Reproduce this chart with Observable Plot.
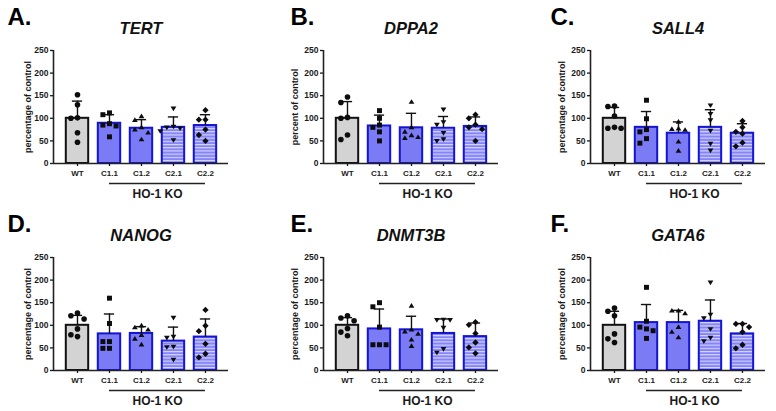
<!DOCTYPE html>
<html>
<head>
<meta charset="utf-8">
<script src="https://cdn.jsdelivr.net/npm/d3@7"></script>
<script src="https://cdn.jsdelivr.net/npm/@observablehq/plot@0.6"></script>
<style>
  body { margin: 0; background: #fff; }
  #wrap { position: relative; width: 776px; height: 411px; background: #fff; overflow: hidden; }
  #wrap svg.plot { position: absolute; width: 240px; height: 205px; max-width: none;
    font-family: "Liberation Sans", Arial, sans-serif; color: #1a1a1a; }
</style>
</head>
<body>
<svg width="0" height="0" style="position:absolute">
  <defs>
    <pattern id="stripes" patternUnits="userSpaceOnUse" width="6" height="3.2">
      <rect x="0" y="0" width="6" height="3.2" fill="#8585f7"></rect>
      <rect x="0" y="0" width="6" height="1.1" fill="#d8d8ff"></rect>
    </pattern>
  </defs>
</svg>
<div id="wrap"></div>
<script>
// ---------- data ----------
const categories = ["WT", "C1.1", "C1.2", "C2.1", "C2.2"];
const genes = ["TERT", "DPPA2", "SALL4", "NANOG", "DNMT3B", "GATA6"];
const panelLetters = ["A.", "B.", "C.", "D.", "E.", "F."];
const yLabels = ["percentage of control", "percent of control", "percentage of control",
                 "percentage of control", "percentage of control", "percentage of control"];
const groupLabel = "HO-1 KO";
const yTicks = [0, 50, 100, 150, 200, 250];

const meanTERT   = [100, 89, 78, 80, 84];
const sdTERT     = [38, 19, 19, 23, 24];
const meanDPPA2  = [100, 83, 79, 78, 82];
const sdDPPA2    = [37, 24, 32, 26, 21];
const meanSALL4  = [100, 80, 67, 80, 67];
const sdSALL4    = [24, 35, 25, 39, 21];
const meanNANOG  = [100, 81, 82, 65, 74];
const sdNANOG    = [22, 44, 15, 31, 40];
const meanDNMT3B = [100, 92, 90, 82, 75];
const sdDNMT3B   = [17, 44, 30, 32, 30];
const meanGATA6  = [100, 106, 106, 109, 81];
const sdGATA6    = [31, 40, 27, 47, 23];

const ptsTERT = [
  [152, 130, 101, 100, 68, 47],
  [112, 108, 88, 85, 83, 59],
  [104, 96, 80, 75, 68, 53],
  [122, 82, 80, 78, 72, 52],
  [118, 97, 97, 75, 63, 50]];
const ptsDPPA2 = [
  [147, 135, 102, 100, 63, 53],
  [117, 100, 85, 80, 70, 50],
  [136, 80, 70, 62, 58, 56],
  [120, 92, 86, 68, 54, 50],
  [108, 100, 86, 80, 76, 50]];
const ptsSALL4 = [
  [127, 126, 105, 80, 78, 78],
  [140, 99, 75, 70, 55, 45],
  [92, 77, 76, 74, 48, 28],
  [129, 110, 96, 73, 44, 29],
  [94, 80, 70, 66, 46, 38]];
const ptsNANOG = [
  [127, 121, 114, 92, 79, 75],
  [160, 104, 64, 64, 49, 49],
  [99, 95, 90, 78, 70, 57],
  [117, 75, 73, 53, 52, 24],
  [134, 99, 87, 59, 37, 29]];
const ptsDNMT3B = [
  [121, 116, 110, 93, 85, 77],
  [150, 141, 96, 57, 57, 57],
  [143, 90, 86, 81, 68, 54],
  [113, 112, 112, 95, 48, 40],
  [107, 101, 82, 62, 51, 38]];
const ptsGATA6 = [
  [138, 131, 121, 81, 70, 62],
  [184, 109, 96, 92, 88, 71],
  [132, 132, 126, 96, 85, 73],
  [195, 124, 116, 92, 73, 65],
  [103, 103, 96, 85, 57, 49]];

const allMeans = [meanTERT, meanDPPA2, meanSALL4, meanNANOG, meanDNMT3B, meanGATA6];
const allSds = [sdTERT, sdDPPA2, sdSALL4, sdNANOG, sdDNMT3B, sdGATA6];
const allPts = [ptsTERT, ptsDPPA2, ptsSALL4, ptsNANOG, ptsDNMT3B, ptsGATA6];

// ---------- styles / layout ----------
const fills = ["#d3d3d3", "#7b7bf5", "#7b7bf5", "url(#stripes)", "url(#stripes)"];
const strokes = ["#111111", "#1414d4", "#1414d4", "#1414d4", "#1414d4"];
const panelLeft = [0, 270, 537];
const panelTop = [0, 207];
const letterX = [7, 20, 13];
const yLabelX = [28, 25, 25];
const W = 240, H = 205, mL = 53, mR = 12, mT = 50, mB = 42;
const xDomain = [-0.75, 4.72];
const yDomain = [0, 250];
const halfBar = 0.35, capHalf = 0.16;
const font = `"Liberation Sans", Arial, sans-serif`;

const triangle = {
  draw(ctx, size) {
    const s = Math.sqrt(size) * 0.58;
    ctx.moveTo(0, -s * 1.0);
    ctx.lineTo(s, s * 0.62);
    ctx.lineTo(-s, s * 0.62);
    ctx.closePath();
  }
};
const invTriangle = {
  draw(ctx, size) {
    const s = Math.sqrt(size) * 0.58;
    ctx.moveTo(-s, -s * 0.62);
    ctx.lineTo(s, -s * 0.62);
    ctx.lineTo(0, s * 1.0);
    ctx.closePath();
  }
};
const diamond = {
  draw(ctx, size) {
    const r = Math.sqrt(size / 2) * 0.9;
    ctx.moveTo(0, -r);
    ctx.lineTo(r, 0);
    ctx.lineTo(0, r);
    ctx.lineTo(-r, 0);
    ctx.closePath();
  }
};
const symbolRange = [d3.symbolCircle, d3.symbolSquare, triangle, invTriangle, diamond];

// simple swarm: spread overlapping points horizontally (pixel logic -> x units)
const pxPerY = (H - mT - mB) / (yDomain[1] - yDomain[0]);
const pxPerX = (W - mL - mR) / (xDomain[1] - xDomain[0]);
function swarm(vals) {
  const d = 6.6;
  const order = vals.map((v, i) => i).sort((a, b) => vals[b] - vals[a]);
  const placed = [];
  const off = new Array(vals.length).fill(0);
  for (const idx of order) {
    for (const k of [0, -1, 1, -2, 2, -3, 3]) {
      const cx = k * d;
      const cy = vals[idx] * pxPerY;
      const ok = placed.every(p => Math.abs(p.y - cy) >= d - 0.4 || Math.abs(p.x - cx) >= d - 0.4);
      if (ok) { placed.push({x: cx, y: cy}); off[idx] = cx / pxPerX; break; }
    }
  }
  return off;
}

const wrap = document.getElementById("wrap");
const iC11 = categories.indexOf("C1.1");
const iC22 = categories.indexOf("C2.2");

genes.forEach((gene, g) => {
  const col = g % 3, row = Math.floor(g / 3);
  const bars = categories.map((c, i) => ({
    cat: c, i, mean: allMeans[g][i], sd: allSds[g][i], fill: fills[i], stroke: strokes[i]
  }));
  const pts = [];
  categories.forEach((c, i) => {
    const vals = allPts[g][i];
    const off = swarm(vals);
    vals.forEach((v, j) => pts.push({cat: c, i, v, off: off[j]}));
  });
  const labelXData = xDomain[0] - (mL - yLabelX[col]) / pxPerX;
  const labelYData = (yDomain[0] + yDomain[1]) / 2;

  const chart = Plot.plot({
    width: W, height: H,
    marginLeft: mL, marginRight: mR, marginTop: mT, marginBottom: mB,
    style: {fontFamily: font, overflow: "visible", background: "transparent"},
    x: {domain: xDomain, axis: null},
    y: {domain: yDomain, axis: null},
    color: {type: "identity"},
    symbol: {domain: categories, range: symbolRange},
    marks: [
      Plot.rectY(bars, {x1: d => d.i - halfBar, x2: d => d.i + halfBar, y: "mean",
        fill: "fill", stroke: "stroke", strokeWidth: 2}),
      Plot.ruleX(bars, {x: "i", y1: "mean", y2: d => d.mean + d.sd, stroke: "#111", strokeWidth: 1.4}),
      Plot.ruleY(bars, {x1: d => d.i - capHalf, x2: d => d.i + capHalf, y: d => d.mean + d.sd,
        stroke: "#111", strokeWidth: 1.4}),
      Plot.dot(pts, {x: d => d.i + d.off, y: "v", symbol: "cat", fill: "#0d0d0d", stroke: "none", r: 2.8}),
      Plot.ruleY([0], {stroke: "#222", strokeWidth: 1.6}),
      Plot.ruleX([xDomain[0]], {stroke: "#222", strokeWidth: 1.6}),
      Plot.axisY({ticks: yTicks, tickSize: 3, tickPadding: 2, fontSize: 8.5, fontWeight: "bold",
        label: null, strokeWidth: 1.3}),
      Plot.axisX({ticks: categories.map((c, i) => i), tickFormat: i => categories[i], tickSize: 3,
        tickPadding: 4, fontSize: 8, fontWeight: "bold", label: null, strokeWidth: 1.3}),
      Plot.ruleY([0], {x1: iC11, x2: iC22, dy: 20, stroke: "#222", strokeWidth: 1.6}),
      Plot.text([groupLabel], {x: (iC11 + iC22) / 2, y: 0, dy: 34, text: d => d, lineAnchor: "bottom",
        fontSize: 12, fontWeight: "bold", fill: "#1a1a1a"}),
      Plot.text([gene], {frameAnchor: "top", dy: -17, text: d => d, lineAnchor: "bottom",
        fontSize: 16.5, fontWeight: "bold", fontStyle: "italic", fill: "#111"}),
      Plot.text([panelLetters[g]], {frameAnchor: "top-left", dx: letterX[col] - mL, dy: -26,
        text: d => d, textAnchor: "start", lineAnchor: "bottom",
        fontSize: 24, fontWeight: "bold", fill: "#000"}),
      Plot.text([yLabels[g]], {x: labelXData, y: labelYData, rotate: -90, text: d => d,
        textAnchor: "middle", lineAnchor: "middle",
        fontSize: 9, fontWeight: "bold", fill: "#1a1a1a"})
    ]
  });
  chart.classList.add("plot");
  chart.style.left = panelLeft[col] + "px";
  chart.style.top = panelTop[row] + "px";
  wrap.appendChild(chart);
});
</script>
</body>
</html>
